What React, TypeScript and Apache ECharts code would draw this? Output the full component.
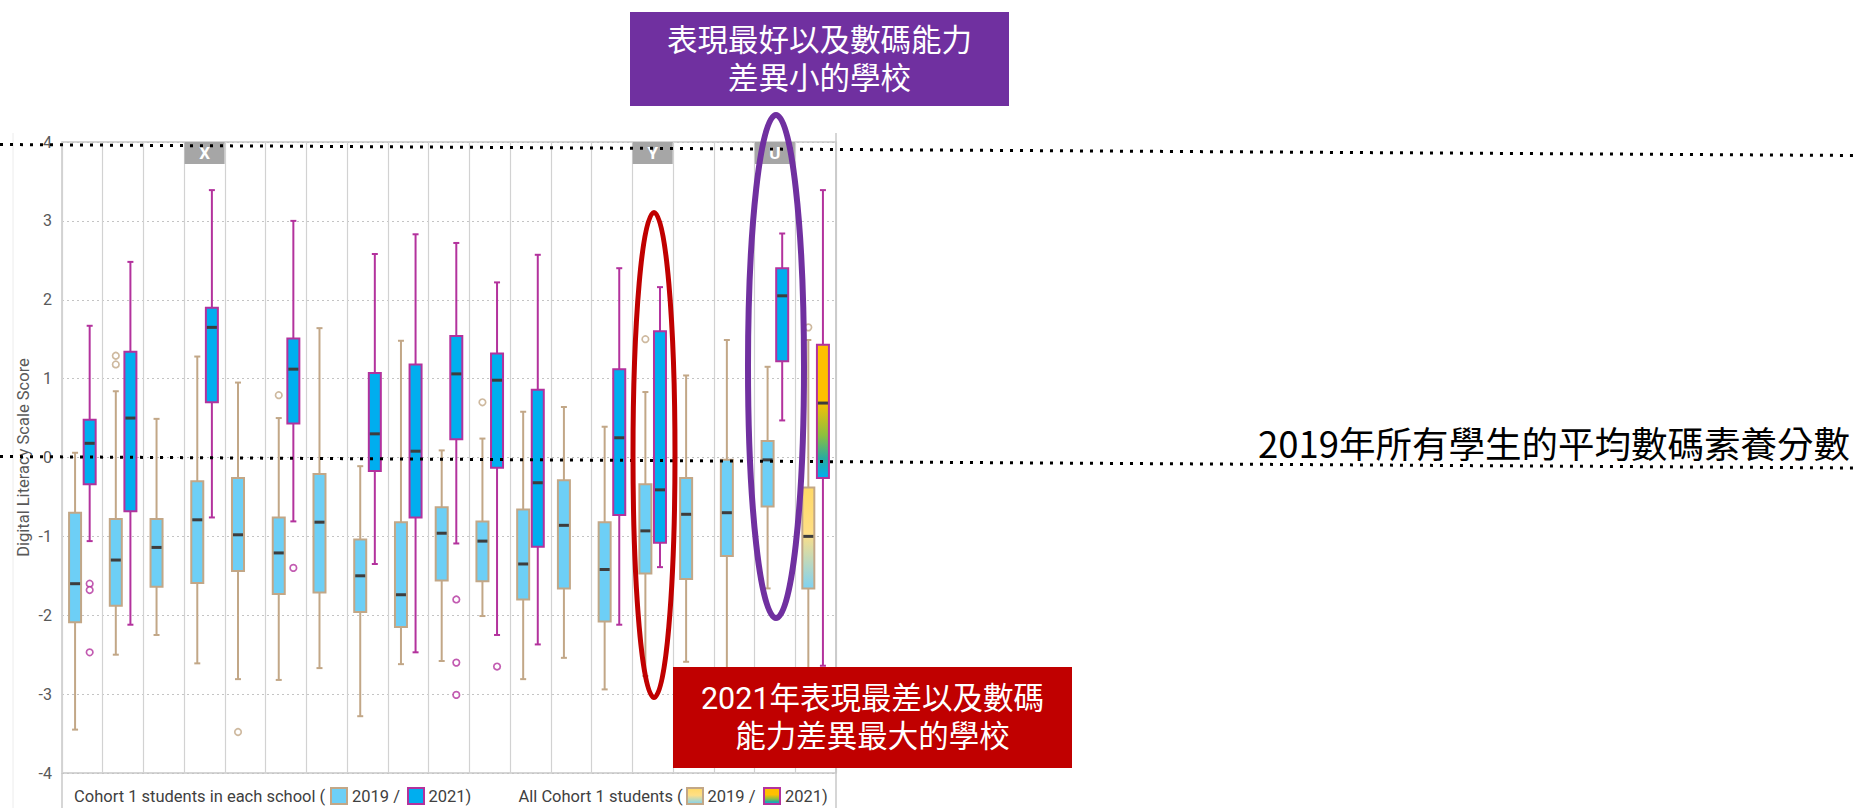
import React, { useEffect, useRef } from 'react';
import * as echarts from 'echarts';

// ---------- data ----------
const categories = [
  'School 1', 'School 2', 'School 3', 'X', 'School 5', 'School 6', 'School 7',
  'School 8', 'School 9', 'School 10', 'School 11', 'School 12', 'School 13',
  'School 14', 'Y', 'School 16', 'School 17', 'U', 'All Cohort 1 students',
];
const headerLabels = ['X', 'Y', 'U'];
const ALL_NAME = 'All Cohort 1 students';

// [low whisker, Q1, median, Q3, high whisker], aligned with categories (null = no box)
const stats2019: (number[] | null)[] = [
  [-3.45, -2.09, -1.6, -0.7, 0.06],
  [-2.5, -1.88, -1.3, -0.78, 0.84],
  [-2.25, -1.64, -1.14, -0.78, 0.49],
  [-2.61, -1.59, -0.79, -0.3, 1.28],
  [-2.81, -1.44, -0.98, -0.26, 0.95],
  [-2.82, -1.73, -1.21, -0.76, 0.5],
  [-2.67, -1.71, -0.82, -0.21, 1.64],
  [-3.28, -1.96, -1.5, -1.04, -0.11],
  [-2.62, -2.15, -1.74, -0.82, 1.48],
  [-2.58, -1.56, -0.96, -0.63, 0.09],
  [-2.01, -1.57, -1.06, -0.81, 0.24],
  [-2.81, -1.8, -1.35, -0.66, 0.58],
  [-2.54, -1.66, -0.86, -0.29, 0.64],
  [-2.94, -2.08, -1.42, -0.82, 0.39],
  [-2.77, -1.47, -0.93, -0.34, 0.83],
  [-2.59, -1.54, -0.72, -0.26, 1.04],
  [-2.75, -1.25, -0.7, -0.03, 1.49],
  [-1.66, -0.62, -0.03, 0.21, 1.15],
  [-2.9, -1.66, -1.0, -0.38, 1.49],
];
const stats2021: (number[] | null)[] = [
  [-1.06, -0.34, 0.18, 0.48, 1.67],
  [-2.12, -0.68, 0.5, 1.34, 2.48],
  null,
  [-0.76, 0.7, 1.65, 1.9, 3.39],
  null,
  [-0.81, 0.43, 1.12, 1.51, 3.0],
  null,
  [-1.35, -0.17, 0.3, 1.07, 2.58],
  [-2.47, -0.76, 0.08, 1.18, 2.83],
  [-1.09, 0.23, 1.06, 1.54, 2.72],
  [-2.25, -0.13, 0.98, 1.32, 2.22],
  [-2.37, -1.13, -0.32, 0.86, 2.57],
  null,
  [-2.12, -0.73, 0.25, 1.12, 2.4],
  [-1.39, -1.08, -0.41, 1.6, 2.16],
  null,
  null,
  [0.47, 1.22, 2.05, 2.4, 2.84],
  [-2.64, -0.26, 0.69, 1.43, 3.39],
];
const outliers2019: [string, number][] = [
  ['School 2', 1.29], ['School 2', 1.18], ['School 5', -3.48], ['School 6', 0.79],
  ['School 11', 0.7], ['Y', 1.5], [ALL_NAME, 1.65],
];
const outliers2021: [string, number][] = [
  ['School 1', -1.6], ['School 1', -1.68], ['School 1', -2.47], ['School 6', -1.4],
  ['School 10', -1.8], ['School 10', -2.6], ['School 10', -3.01], ['School 11', -2.65],
];
const Y_MIN = -4;
const Y_MAX = 4;
const Y_STEP = 1;

// ---------- styles ----------
const FILL19 = '#6dcff6';
const STROKE19 = '#c2a787';
const FILL21 = '#00aeef';
const STROKE21 = '#b3329d';
const MEDIAN = '#3d3d3d';
const BOX_W = 12;
const BOX_OFF = 7.3;
const FONT = 'Roboto, "Noto Sans", sans-serif';
const CJK = '"Noto Sans CJK TC", "Noto Sans CJK SC", sans-serif';
const CJK_COMPACT = 'Roboto, "Noto Sans CJK TC", sans-serif';

const grad19 = () =>
  new echarts.graphic.LinearGradient(0, 0, 0, 1, [
    { offset: 0, color: '#ffd966' },
    { offset: 0.45, color: '#ffdf85' },
    { offset: 1, color: '#7fd2f2' },
  ]);
const grad21 = () =>
  new echarts.graphic.LinearGradient(0, 0, 0, 1, [
    { offset: 0, color: '#ffc000' },
    { offset: 0.42, color: '#ffc000' },
    { offset: 0.68, color: '#8cbf3f' },
    { offset: 0.85, color: '#2aab9f' },
    { offset: 1, color: '#00aeef' },
  ]);

function makeRender(offset: number, fill: string, stroke: string, allFill: () => any) {
  return (params: any, api: any) => {
    const i = api.value(0);
    const pLow = api.coord([i, api.value(1)]);
    const pQ1 = api.coord([i, api.value(2)]);
    const pMed = api.coord([i, api.value(3)]);
    const pQ3 = api.coord([i, api.value(4)]);
    const pHigh = api.coord([i, api.value(5)]);
    const cx = pLow[0] + offset;
    const hw = BOX_W / 2;
    const cap = 3;
    const isAll = categories[i] === ALL_NAME;
    const ls = { stroke, lineWidth: 2 };
    return {
      type: 'group',
      children: [
        { type: 'line', shape: { x1: cx, y1: pHigh[1], x2: cx, y2: pQ3[1] }, style: ls },
        { type: 'line', shape: { x1: cx, y1: pQ1[1], x2: cx, y2: pLow[1] }, style: ls },
        { type: 'line', shape: { x1: cx - cap, y1: pHigh[1], x2: cx + cap, y2: pHigh[1] }, style: ls },
        { type: 'line', shape: { x1: cx - cap, y1: pLow[1], x2: cx + cap, y2: pLow[1] }, style: ls },
        {
          type: 'rect',
          shape: { x: cx - hw, y: pQ3[1], width: BOX_W, height: pQ1[1] - pQ3[1] },
          style: { fill: isAll ? allFill() : fill, stroke, lineWidth: 2 },
        },
        {
          type: 'line',
          shape: { x1: cx - hw + 1, y1: pMed[1], x2: cx + hw - 1, y2: pMed[1] },
          style: { stroke: MEDIAN, lineWidth: 3 },
        },
      ],
    };
  };
}

const toBoxData = (stats: (number[] | null)[]) =>
  stats.map((s, i) => (s ? [i, ...s] : null)).filter((d) => d !== null);

export default function App() {
  const ref = useRef<HTMLDivElement>(null);
  useEffect(() => {
    if (!ref.current) return;
    const chart = echarts.init(ref.current, undefined, { renderer: 'svg' });
    const legendY = 796.5;
    const txt = (x: number, text: string) => ({
      type: 'text', x, y: legendY, z: 50,
      style: { text, fill: '#404040', fontSize: 16.5, fontFamily: FONT, verticalAlign: 'middle', align: 'left' },
    });
    const sq = (x: number, fill: any, stroke: string) => ({
      type: 'rect', z: 50,
      shape: { x, y: 788, width: 16, height: 16 },
      style: { fill, stroke, lineWidth: 2 },
    });
    const cjkText = (x: number, y: number, text: string, size: number, color: string, align = 'center', family = CJK) => ({
      type: 'text', x, y, z: 120,
      style: { text, fill: color, fontSize: size, fontFamily: family, align, verticalAlign: 'middle' },
    });
    chart.setOption({
      animation: false,
      backgroundColor: '#ffffff',
      grid: {
        left: 62, right: 1020, top: 142, bottom: 35,
        show: true, borderColor: '#c8c8c8', borderWidth: 1.5,
        outerBoundsMode: 'none',
      },
      xAxis: {
        type: 'category',
        data: categories,
        position: 'top',
        boundaryGap: true,
        axisLine: { show: false },
        axisTick: { show: false },
        splitLine: { show: true, interval: 0, lineStyle: { color: '#d2d2d2', width: 1.2 } },
        axisLabel: {
          inside: true,
          interval: 0,
          margin: 0,
          formatter: (v: string) => (headerLabels.includes(v) ? `{h|${v}}` : ''),
          rich: {
            h: {
              backgroundColor: '#a6a6a6', color: '#ffffff', width: 40, height: 22,
              lineHeight: 22, align: 'center', fontSize: 17, fontWeight: 'bold', fontFamily: FONT,
            },
          },
        },
      },
      yAxis: {
        type: 'value',
        min: Y_MIN,
        max: Y_MAX,
        interval: Y_STEP,
        name: 'Digital Literacy Scale Score',
        nameLocation: 'middle',
        nameGap: 30,
        nameTextStyle: { color: '#595959', fontSize: 16.5, fontFamily: FONT },
        axisLine: { show: false },
        axisTick: { show: false },
        axisLabel: { color: '#595959', fontSize: 16, fontFamily: FONT, margin: 10 },
        splitLine: { show: true, lineStyle: { color: '#c4c4c4', width: 1, type: [2, 3] } },
      },
      series: [
        {
          name: '2019', type: 'custom', renderItem: makeRender(-BOX_OFF, FILL19, STROKE19, grad19),
          encode: { x: 0, y: [1, 2, 3, 4, 5] }, data: toBoxData(stats2019), z: 3,
        },
        {
          name: '2021', type: 'custom', renderItem: makeRender(BOX_OFF, FILL21, STROKE21, grad21),
          encode: { x: 0, y: [1, 2, 3, 4, 5] }, data: toBoxData(stats2021), z: 3,
        },
        {
          name: '2019 outliers', type: 'scatter', data: outliers2019, symbol: 'circle', symbolSize: 6.5,
          symbolOffset: [-BOX_OFF, 0], z: 4,
          itemStyle: { color: '#ffffff', borderColor: STROKE19, borderWidth: 1.7 },
        },
        {
          name: '2021 outliers', type: 'scatter', data: outliers2021, symbol: 'circle', symbolSize: 6.5,
          symbolOffset: [BOX_OFF, 0], z: 4,
          itemStyle: { color: '#ffffff', borderColor: STROKE21, borderWidth: 1.7 },
        },
      ],
      graphic: [
        // frame lines
        { type: 'line', z: 1, shape: { x1: 13, y1: 133, x2: 13, y2: 808 }, style: { stroke: '#ececec', lineWidth: 1 } },
        { type: 'line', z: 1, shape: { x1: 836, y1: 133, x2: 836, y2: 808 }, style: { stroke: '#c8c8c8', lineWidth: 1.5 } },
        { type: 'line', z: 1, shape: { x1: 62, y1: 773, x2: 62, y2: 808 }, style: { stroke: '#c8c8c8', lineWidth: 1.5 } },
        // legend row
        txt(74, 'Cohort 1 students in each school ('),
        sq(331, FILL19, STROKE19),
        txt(352, '2019 /'),
        sq(408, FILL21, STROKE21),
        txt(428.5, '2021)'),
        txt(518.5, 'All Cohort 1 students ('),
        sq(687, grad19(), STROKE19),
        txt(707.5, '2019 /'),
        sq(764, grad21(), STROKE21),
        txt(785, '2021)'),
        // dotted reference lines
        { type: 'line', z: 110, shape: { x1: 0, y1: 144.5, x2: 1856, y2: 155.5 }, style: { stroke: '#000', lineWidth: 3, lineDash: [3, 7] } },
        { type: 'line', z: 110, shape: { x1: 0, y1: 456.5, x2: 1856, y2: 468 }, style: { stroke: '#000', lineWidth: 3, lineDash: [3, 7] } },
        // ellipses
        { type: 'ellipse', z: 115, shape: { cx: 654, cy: 455, rx: 21, ry: 242.5 }, style: { fill: 'transparent', stroke: '#c00000', lineWidth: 5 } },
        { type: 'ellipse', z: 115, shape: { cx: 776, cy: 366.5, rx: 28, ry: 251.5 }, style: { fill: 'transparent', stroke: '#7030a0', lineWidth: 6 } },
        // annotation boxes (one text per line)
        { type: 'rect', z: 118, shape: { x: 630, y: 12, width: 379, height: 94 }, style: { fill: '#7030a0' } },
        cjkText(819.5, 40.5, '表現最好以及數碼能力', 30.5, '#ffffff', 'center', CJK_COMPACT),
        cjkText(819.5, 78.5, '差異小的學校', 30.5, '#ffffff', 'center', CJK_COMPACT),
        { type: 'rect', z: 118, shape: { x: 673, y: 667, width: 399, height: 101 }, style: { fill: '#c00000' } },
        cjkText(872.5, 698.5, '2021年表現最差以及數碼', 30.5, '#ffffff', 'center', CJK_COMPACT),
        cjkText(872.5, 736.5, '能力差異最大的學校', 30.5, '#ffffff', 'center', CJK_COMPACT),
        cjkText(1850, 442, '2019年所有學生的平均數碼素養分數', 36.5, '#000000', 'right'),
      ],
    });
    return () => chart.dispose();
  }, []);
  return (
    <div
      ref={ref}
      style={{ position: 'absolute', left: 0, top: 0, width: 1856, height: 808 }}
    />
  );
}
